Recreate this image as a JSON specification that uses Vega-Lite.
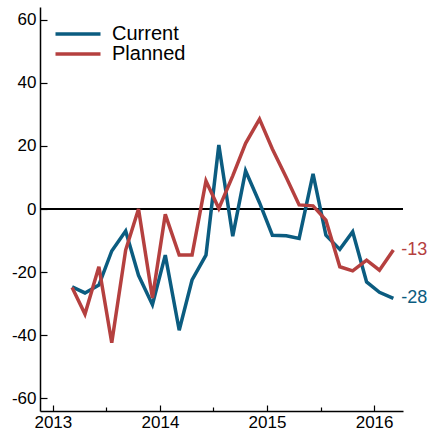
{
  "$schema": "https://vega.github.io/schema/vega-lite/v6.json",
  "width": 363,
  "height": 404,
  "autosize": {"type": "none"},
  "padding": {"left": 40, "top": 7, "right": 25, "bottom": 20},
  "config": {
    "view": {"stroke": null},
    "font": "Liberation Sans",
    "locale": {"number": {"decimal": ".", "thousands": ",", "grouping": [3], "currency": ["$", ""], "minus": "-"}}
  },
  "data": {
    "values": [
      {"t": 2013.18, "series": "Current", "v": -24.7},
      {"t": 2013.30, "series": "Current", "v": -26.6},
      {"t": 2013.43, "series": "Current", "v": -24.1},
      {"t": 2013.55, "series": "Current", "v": -13.3},
      {"t": 2013.68, "series": "Current", "v": -7.0},
      {"t": 2013.80, "series": "Current", "v": -21.0},
      {"t": 2013.93, "series": "Current", "v": -30.3},
      {"t": 2014.05, "series": "Current", "v": -14.6},
      {"t": 2014.18, "series": "Current", "v": -38.4},
      {"t": 2014.30, "series": "Current", "v": -22.5},
      {"t": 2014.43, "series": "Current", "v": -14.6},
      {"t": 2014.55, "series": "Current", "v": 20.3},
      {"t": 2014.68, "series": "Current", "v": -8.6},
      {"t": 2014.80, "series": "Current", "v": 12.1},
      {"t": 2014.93, "series": "Current", "v": 2.0},
      {"t": 2015.05, "series": "Current", "v": -8.3},
      {"t": 2015.18, "series": "Current", "v": -8.5},
      {"t": 2015.30, "series": "Current", "v": -9.3},
      {"t": 2015.43, "series": "Current", "v": 11.1},
      {"t": 2015.55, "series": "Current", "v": -8.3},
      {"t": 2015.68, "series": "Current", "v": -12.8},
      {"t": 2015.80, "series": "Current", "v": -7.2},
      {"t": 2015.93, "series": "Current", "v": -23.1},
      {"t": 2016.05, "series": "Current", "v": -26.4},
      {"t": 2016.18, "series": "Current", "v": -28.3},
      {"t": 2013.18, "series": "Planned", "v": -24.9},
      {"t": 2013.30, "series": "Planned", "v": -33.3},
      {"t": 2013.43, "series": "Planned", "v": -18.3},
      {"t": 2013.55, "series": "Planned", "v": -42.4},
      {"t": 2013.68, "series": "Planned", "v": -13.0},
      {"t": 2013.80, "series": "Planned", "v": 0.0},
      {"t": 2013.93, "series": "Planned", "v": -28.2},
      {"t": 2014.05, "series": "Planned", "v": -1.7},
      {"t": 2014.18, "series": "Planned", "v": -14.6},
      {"t": 2014.30, "series": "Planned", "v": -14.6},
      {"t": 2014.43, "series": "Planned", "v": 8.9},
      {"t": 2014.55, "series": "Planned", "v": 0.2},
      {"t": 2014.68, "series": "Planned", "v": 10.5},
      {"t": 2014.80, "series": "Planned", "v": 20.8},
      {"t": 2014.93, "series": "Planned", "v": 28.5},
      {"t": 2015.05, "series": "Planned", "v": 19.0},
      {"t": 2015.18, "series": "Planned", "v": 10.0},
      {"t": 2015.30, "series": "Planned", "v": 1.3},
      {"t": 2015.43, "series": "Planned", "v": 1.0},
      {"t": 2015.55, "series": "Planned", "v": -3.5},
      {"t": 2015.68, "series": "Planned", "v": -18.3},
      {"t": 2015.80, "series": "Planned", "v": -19.6},
      {"t": 2015.93, "series": "Planned", "v": -16.2},
      {"t": 2016.05, "series": "Planned", "v": -19.4},
      {"t": 2016.18, "series": "Planned", "v": -13.0}
    ]
  },
  "layer": [
    {
      "mark": {"type": "rule", "color": "black", "strokeWidth": 2},
      "encoding": {"y": {"datum": 0, "type": "quantitative"}}
    },
    {
      "mark": {"type": "line", "strokeWidth": 3.5},
      "encoding": {
        "x": {
          "field": "t", "type": "quantitative",
          "scale": {"domain": [2012.88, 2016.27], "nice": false, "zero": false},
          "axis": {
            "title": null,
            "values": [2013, 2013.25, 2013.5, 2013.75, 2014, 2014.25, 2014.5, 2014.75, 2015, 2015.25, 2015.5, 2015.75, 2016, 2016.25],
            "labelExpr": "datum.value % 1 === 0 ? format(datum.value, 'd') : ''",
            "tickSize": {"condition": {"test": "datum.value % 1 === 0", "value": -6}, "value": -4},
            "tickColor": "black",
            "tickWidth": 1.2,
            "domainColor": "black",
            "domainWidth": 1.5,
            "grid": false,
            "labelFontSize": 17,
            "labelColor": "black",
            "labelPadding": 9,
            "labelFlush": false,
            "labelOverlap": false
          }
        },
        "y": {
          "field": "v", "type": "quantitative",
          "scale": {"domain": [-64, 64], "nice": false},
          "axis": {
            "title": null,
            "values": [-60, -40, -20, 0, 20, 40, 60],
            "tickSize": -7,
            "tickColor": "black",
            "tickWidth": 1.2,
            "domainColor": "black",
            "domainWidth": 1.5,
            "grid": false,
            "labelFontSize": 17,
            "labelColor": "black",
            "labelPadding": 11
          }
        },
        "color": {
          "field": "series", "type": "nominal",
          "scale": {"domain": ["Current", "Planned"], "range": ["#0b5c80", "#b5403f"]},
          "legend": {
            "title": null,
            "orient": "none",
            "legendX": 28,
            "legendY": 17,
            "padding": 0,
            "symbolType": "M-5,0H5",
            "symbolSize": 81,
            "symbolStrokeWidth": 3.5,
            "labelFontSize": 20,
            "labelColor": "black",
            "labelOffset": 24,
            "rowPadding": 0
          }
        }
      }
    },
    {
      "transform": [{"filter": "datum.t === 2016.18"}],
      "mark": {"type": "text", "align": "left", "baseline": "middle", "dx": 8, "fontSize": 18},
      "encoding": {
        "x": {"field": "t", "type": "quantitative"},
        "y": {"field": "v", "type": "quantitative"},
        "text": {"field": "v", "type": "quantitative", "format": ".0f"},
        "color": {"field": "series", "type": "nominal", "legend": null}
      }
    }
  ]
}
